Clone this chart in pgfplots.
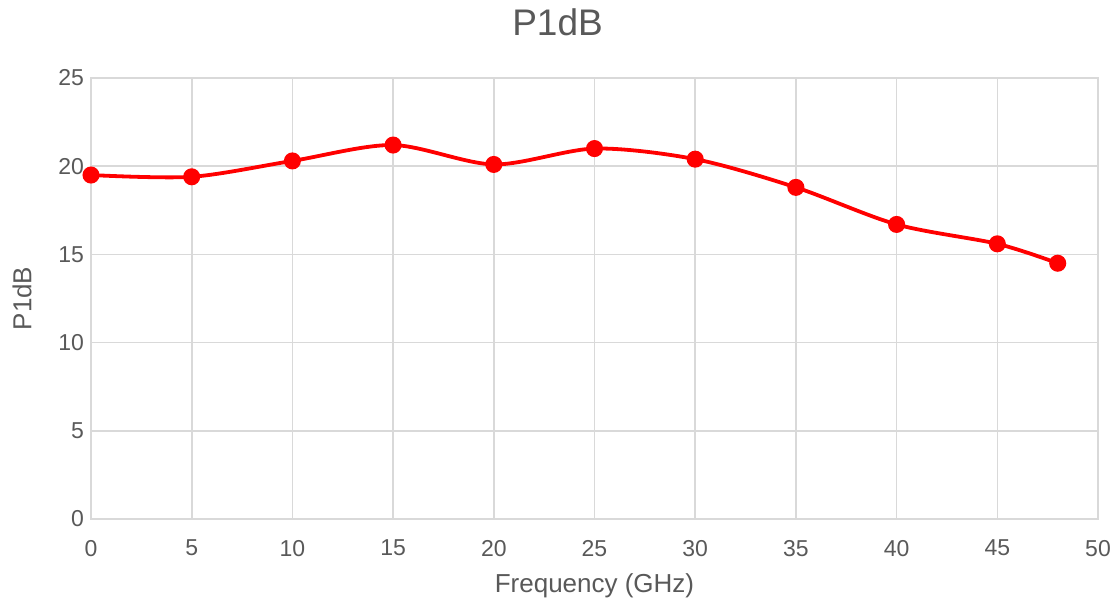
\documentclass[border=0pt]{standalone}
\usepackage{fontspec}
\setmainfont{Liberation Sans}
\usepackage{pgfplots}
\pgfplotsset{compat=1.18}
\definecolor{txtgray}{HTML}{595959}
\definecolor{gridgray}{HTML}{D9D9D9}
\definecolor{linered}{HTML}{FF0000}
\begin{document}
\begin{tikzpicture}
% page size: 1118x602 px at 0.5pt per px
\useasboundingbox (-45.5pt,-41.5pt) rectangle (513.5pt,259.5pt);
\begin{axis}[
    scale only axis,
    width=503.5pt, height=220.5pt,
    xmin=0, xmax=50, ymin=0, ymax=25,
    xtick={0,5,...,50}, ytick={0,5,...,25},
    grid=major,
    major grid style={draw=gridgray, line width=0.8pt},
    axis line style={draw=gridgray, line width=0.8pt},
    major tick length=0pt,
    /pgf/number format/assume math mode=true,
    ticklabel style={font=\fontsize{11.5}{13}\selectfont, text=txtgray},
    xticklabel style={yshift=-7pt},
    title={P1dB},
    title style={font=\fontsize{18.5}{21}\selectfont, text=txtgray,
        at={(axis description cs:0.4633,1.099)}, anchor=center},
    xlabel={Frequency (GHz)},
    xlabel style={font=\fontsize{13}{15}\selectfont, text=txtgray,
        at={(axis description cs:0.5,-0.152)}, anchor=center},
    ylabel={P1dB},
    ylabel style={font=\fontsize{13}{15}\selectfont, text=txtgray,
        at={(axis description cs:-0.0685,0.5)}, anchor=center, rotate=0},
]
\addplot[linered, line width=1.9pt, smooth, mark=*, mark size=3.3pt,
    mark options={fill=linered, draw=linered}]
coordinates {
    (0,19.5) (5,19.4) (10,20.3) (15,21.2) (20,20.1) (25,21.0)
    (30,20.4) (35,18.8) (40,16.7) (45,15.6) (48,14.5)
};
\end{axis}
\end{tikzpicture}
\end{document}
